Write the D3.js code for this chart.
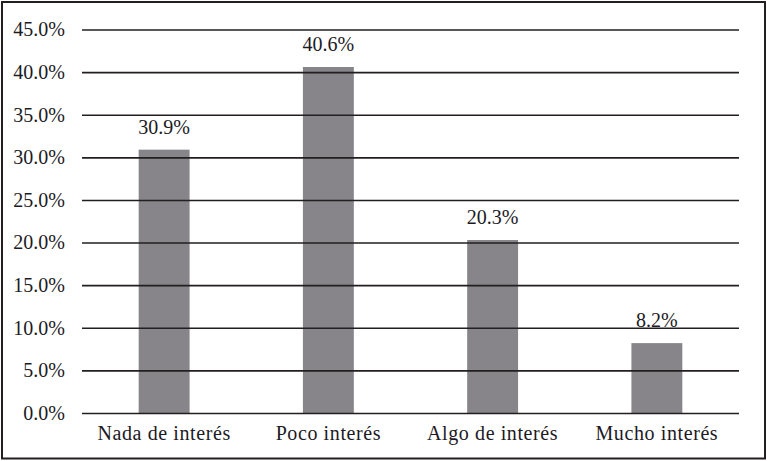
<!DOCTYPE html>
<html><head><meta charset="utf-8">
<script src="https://cdn.jsdelivr.net/npm/d3@7"></script>
<style>body{margin:0;background:#fff}svg{display:block}text{font-family:"Liberation Serif","DejaVu Serif",serif;fill:#1c1a24}</style>
</head><body><svg id="c" width="767" height="461"></svg>
<script>
const categories = ["Nada de interés","Poco interés","Algo de interés","Mucho interés"];
const values = [30.9, 40.6, 20.3, 8.2];
const valueLabels = ["30.9%","40.6%","20.3%","8.2%"];
const tickValues = [0,5,10,15,20,25,30,35,40,45];
const tickLabels = ["0.0%","5.0%","10.0%","15.0%","20.0%","25.0%","30.0%","35.0%","40.0%","45.0%"];

(function(){
const svg = d3.select("#c");
const W = 767, H = 461;
svg.append("rect").attr("x",2).attr("y",2).attr("width",W-4).attr("height",H-4.5)
  .attr("fill","#fff").attr("stroke","#231f20").attr("stroke-width",2);

const mL = 82, mR = 739, mT = 29.5, mB = 413;
const x = d3.scaleBand().domain(categories).range([mL,mR]).paddingInner(0.69).paddingOuter(0.345);
const y = d3.scaleLinear().domain([0,45]).range([mB,mT]);

svg.selectAll("rect.bar").data(values).enter().append("rect").attr("class","bar")
  .attr("x",(d,i)=>x(categories[i])).attr("width",x.bandwidth())
  .attr("y",d=>y(d)).attr("height",d=>y(0)-y(d)).attr("fill","#878589");

const yAxis = d3.axisLeft(y).tickValues(tickValues).tickFormat((d,i)=>tickLabels[i]).tickSize(-(mR-mL)).tickPadding(17);
const ga = svg.append("g").attr("transform",`translate(${mL},0)`).call(yAxis);
ga.select(".domain").remove();
ga.selectAll(".tick line").attr("stroke","#231f20").attr("stroke-width",1.6);
ga.selectAll(".tick text").attr("font-size",20).style("font-family","'Liberation Serif',serif").attr("fill","#1c1a24");

const xAxis = d3.axisBottom(x).tickSize(0).tickPadding(13);
const gx = svg.append("g").attr("transform",`translate(0,${mB})`).call(xAxis);
gx.select(".domain").remove();
gx.selectAll(".tick text").attr("font-size",20).style("letter-spacing","0.6px").style("font-family","'Liberation Serif',serif").attr("fill","#1c1a24");

svg.selectAll("text.val").data(values).enter().append("text").attr("class","val")
  .attr("x",(d,i)=>x(categories[i])+x.bandwidth()/2).attr("y",d=>y(d)-16)
  .attr("text-anchor","middle").attr("font-size",20).text((d,i)=>valueLabels[i]);
})();
</script></body></html>
